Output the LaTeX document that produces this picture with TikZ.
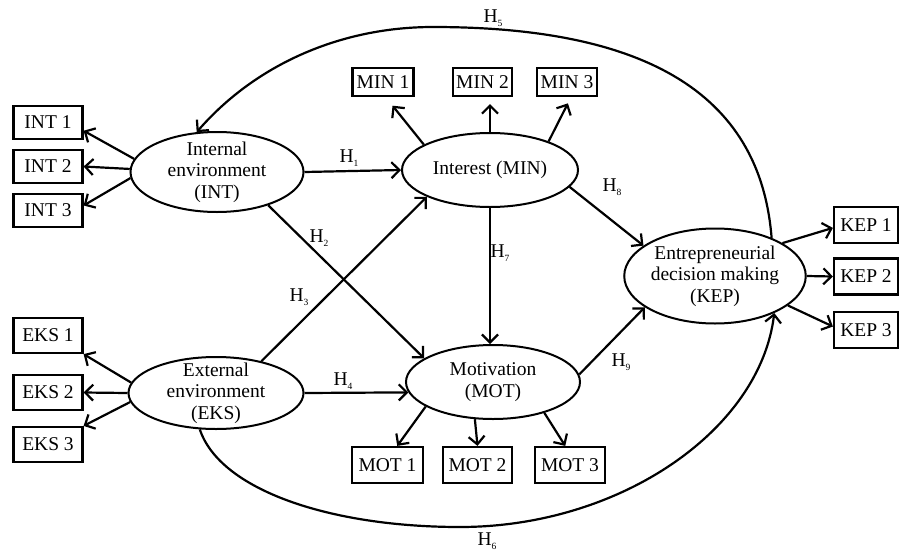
\documentclass[tikz,border=0pt]{standalone}
\usepackage{fontspec}
\setmainfont{Liberation Serif}
\usetikzlibrary{arrows.meta,shapes.geometric}
\newcommand\hsub[1]{H\raisebox{-3.5pt}{\fontsize{9.5}{9.5}\selectfont #1}}
\begin{document}
\begin{tikzpicture}[x=1pt,y=-1pt,
  every node/.style={font=\fontsize{19.5}{21.5}\selectfont},
  lat/.style={ellipse,draw,line width=2pt,inner sep=0pt,align=center},
  ind/.style={rectangle,draw,line width=2.2pt,inner sep=0pt,minimum height=33pt,minimum width=69pt},
  arr/.style={line width=2.2pt,-{Straight Barb[length=8pt,width=16pt]}},
  hl/.style={inner sep=0pt}]
\useasboundingbox (0,0) rectangle (900,552);

% latent constructs
\node[lat,minimum width=173pt,minimum height=80pt,inner ysep=-5pt] (INT) at (217,172) {Internal\\environment\\(INT)};
\node[lat,minimum width=175pt,minimum height=72pt,inner ysep=-7pt] (EKS) at (216,393) {External\\environment\\(EKS)};
\node[lat,minimum width=176pt,minimum height=74pt] (MIN) at (490,170) {Interest (MIN)};
\node[lat,minimum width=174pt,minimum height=74pt] (MOT) at (493,382) {Motivation\\(MOT)};
\node[lat,minimum width=176pt,minimum height=95pt,inner ysep=-2pt] (KEP) at (715,276) {Entrepreneurial\\decision making\\(KEP)};

% indicators
\node[ind] (INT1) at (48,122.5) {INT 1};
\node[ind] (INT2) at (48,166.5) {INT 2};
\node[ind] (INT3) at (48,210.5) {INT 3};
\node[ind,minimum height=35pt] (EKS1) at (48,335.5) {EKS 1};
\node[ind,minimum height=35pt] (EKS2) at (48,392.5) {EKS 2};
\node[ind,minimum height=35pt] (EKS3) at (48,444.5) {EKS 3};
\node[ind,minimum width=61pt,minimum height=28pt] (MIN1) at (383,82) {MIN 1};
\node[ind,minimum width=59pt,minimum height=28pt] (MIN2) at (482.5,82) {MIN 2};
\node[ind,minimum width=60pt,minimum height=28pt] (MIN3) at (567,82) {MIN 3};
\node[ind,minimum width=71pt,minimum height=36pt] (MOT1) at (387.5,465) {MOT 1};
\node[ind,minimum width=69pt,minimum height=36pt] (MOT2) at (477.5,465) {MOT 2};
\node[ind,minimum width=70pt,minimum height=36pt] (MOT3) at (570,465) {MOT 3};
\node[ind,minimum width=64pt,minimum height=36pt] (KEP1) at (866,225) {KEP 1};
\node[ind,minimum width=64pt,minimum height=36pt] (KEP2) at (866,276.5) {KEP 2};
\node[ind,minimum width=64pt,minimum height=36pt] (KEP3) at (866,330) {KEP 3};

% measurement arrows
\draw[arr] (INT.171) -- (INT1.-13);
\draw[arr] (INT.178) -- (INT2.east);
\draw[arr] (INT.184) -- (INT3.8);
\draw[arr] (EKS.173) -- (EKS1.south east);
\draw[arr] (EKS.180) -- (EKS2.east);
\draw[arr] (EKS.186) -- (EKS3.north east);
\draw[arr,shorten >=11pt] (MIN.159) -- (MIN1.-80);
\draw[arr,shorten >=7pt] (MIN.north) -- (MIN.north |- MIN2.south);
\draw[arr,shorten >=7pt] (MIN.26) -- (MIN3.-75);
\draw[arr] (MOT.200) -- (MOT1.63);
\draw[arr] (MOT.244) -- (MOT2.north);
\draw[arr] (MOT.-31) -- (MOT3.104);
\draw[arr] (KEP.26) -- (KEP1.185);
\draw[arr] (KEP.east) -- (KEP2.west);
\draw[arr] (KEP.-22) -- (KEP3.174);

% structural paths
\draw[arr] (INT.east) -- (MIN.west);
\draw[arr] (INT.-33) -- (MOT.161);
\draw[arr] (EKS.35) -- (MIN.203);
\draw[arr] (EKS.east) -- (MOT.187);
\draw[arr] (MIN.south) -- (MIN.south |- MOT.north);
\draw[arr] (MIN.-12) -- (KEP.157);
\draw[arr] (MOT.5) -- (KEP.204);

\coordinate (top5) at (433,27);
\coordinate (bot6) at (460,527);
\draw[arr] (KEP.34) .. controls (760,90) and (640,27) .. (top5) .. controls (340,27) and (255,65) .. (INT.117);
\draw[arr] (EKS.246) .. controls (220,490) and (330,527) .. (bot6) .. controls (620,527) and (760,430) .. (KEP.-32);

% labels
\node[hl] (h1) at (349,158) {\hsub{1}};
\node[hl] (h2) at (319,238) {\hsub{2}};
\node[hl] (h3) at (299,297) {\hsub{3}};
\node[hl] (h4) at (343,381) {\hsub{4}};
\node[hl] (h5) at (493,18) {\hsub{5}};
\node[hl] (h6) at (487,541) {\hsub{6}};
\node[hl] (h7) at (500,253) {\hsub{7}};
\node[hl] (h8) at (612,187) {\hsub{8}};
\node[hl] (h9) at (621,362) {\hsub{9}};
\end{tikzpicture}
\end{document}
